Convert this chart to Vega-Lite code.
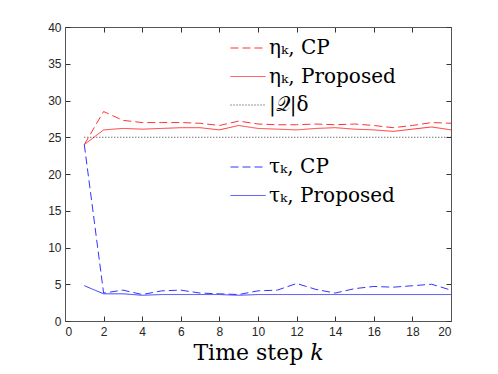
{
  "$schema": "https://vega.github.io/schema/vega-lite/v6.json",
  "width": 386,
  "height": 294,
  "autosize": {"type": "none"},
  "padding": {"left": 65, "top": 27, "right": 47, "bottom": 53},
  "background": "white",
  "config": {
    "view": {"stroke": null},
    "axis": {
      "grid": false,
      "domainColor": "#555555",
      "domainWidth": 1,
      "tickColor": "#333333",
      "tickSize": -5,
      "labelFont": "Liberation Sans",
      "labelFontSize": 12,
      "labelColor": "#262626"
    },
    "legend": {
      "symbolType": "stroke",
      "symbolSize": 1225,
      "symbolStrokeWidth": 1,
      "labelFont": "DejaVu Serif",
      "labelFontSize": 20,
      "labelColor": "black",
      "labelOffset": 3,
      "rowPadding": 0.5,
      "padding": 0,
      "labelLimit": 300
    }
  },
  "layer": [
    {
      "data": {"values": [
        {"k": 1, "v": 24.0, "series": "ηₖ, CP"},
        {"k": 2, "v": 28.5, "series": "ηₖ, CP"},
        {"k": 3, "v": 27.3, "series": "ηₖ, CP"},
        {"k": 4, "v": 27.0, "series": "ηₖ, CP"},
        {"k": 5, "v": 27.0, "series": "ηₖ, CP"},
        {"k": 6, "v": 27.0, "series": "ηₖ, CP"},
        {"k": 7, "v": 26.9, "series": "ηₖ, CP"},
        {"k": 8, "v": 26.6, "series": "ηₖ, CP"},
        {"k": 9, "v": 27.2, "series": "ηₖ, CP"},
        {"k": 10, "v": 26.8, "series": "ηₖ, CP"},
        {"k": 11, "v": 26.7, "series": "ηₖ, CP"},
        {"k": 12, "v": 26.7, "series": "ηₖ, CP"},
        {"k": 13, "v": 26.8, "series": "ηₖ, CP"},
        {"k": 14, "v": 26.7, "series": "ηₖ, CP"},
        {"k": 15, "v": 26.8, "series": "ηₖ, CP"},
        {"k": 16, "v": 26.6, "series": "ηₖ, CP"},
        {"k": 17, "v": 26.3, "series": "ηₖ, CP"},
        {"k": 18, "v": 26.6, "series": "ηₖ, CP"},
        {"k": 19, "v": 27.0, "series": "ηₖ, CP"},
        {"k": 20, "v": 26.9, "series": "ηₖ, CP"},
        {"k": 1, "v": 24.0, "series": "ηₖ, Proposed"},
        {"k": 2, "v": 26.0, "series": "ηₖ, Proposed"},
        {"k": 3, "v": 26.2, "series": "ηₖ, Proposed"},
        {"k": 4, "v": 26.1, "series": "ηₖ, Proposed"},
        {"k": 5, "v": 26.2, "series": "ηₖ, Proposed"},
        {"k": 6, "v": 26.3, "series": "ηₖ, Proposed"},
        {"k": 7, "v": 26.3, "series": "ηₖ, Proposed"},
        {"k": 8, "v": 26.0, "series": "ηₖ, Proposed"},
        {"k": 9, "v": 26.6, "series": "ηₖ, Proposed"},
        {"k": 10, "v": 26.2, "series": "ηₖ, Proposed"},
        {"k": 11, "v": 26.1, "series": "ηₖ, Proposed"},
        {"k": 12, "v": 26.0, "series": "ηₖ, Proposed"},
        {"k": 13, "v": 26.2, "series": "ηₖ, Proposed"},
        {"k": 14, "v": 26.3, "series": "ηₖ, Proposed"},
        {"k": 15, "v": 26.1, "series": "ηₖ, Proposed"},
        {"k": 16, "v": 26.0, "series": "ηₖ, Proposed"},
        {"k": 17, "v": 25.8, "series": "ηₖ, Proposed"},
        {"k": 18, "v": 26.1, "series": "ηₖ, Proposed"},
        {"k": 19, "v": 26.4, "series": "ηₖ, Proposed"},
        {"k": 20, "v": 26.0, "series": "ηₖ, Proposed"},
        {"k": 1, "v": 25, "series": "|𝒬|δ"},
        {"k": 20, "v": 25, "series": "|𝒬|δ"}
      ]},
      "mark": {"type": "line", "strokeWidth": 1},
      "encoding": {
        "x": {"field": "k", "type": "quantitative",
              "scale": {"domain": [0, 20], "nice": false},
              "axis": {"orient": "bottom", "values": [0,2,4,6,8,10,12,14,16,18,20], "labelPadding": 10,
                       "title": "Time step 𝑘", "titleFont": "DejaVu Serif", "titleFontSize": 22,
                       "titleFontWeight": "normal", "titleColor": "black", "titlePadding": 5}},
        "y": {"field": "v", "type": "quantitative",
              "scale": {"domain": [0, 40], "nice": false},
              "axis": {"orient": "left", "values": [0,5,10,15,20,25,30,35,40], "labelPadding": 9, "title": null}},
        "color": {"field": "series", "type": "nominal",
                  "scale": {"domain": ["ηₖ, CP", "ηₖ, Proposed", "|𝒬|δ"], "range": ["#ff3333", "#ff3333", "#333333"]},
                  "legend": {"orient": "none", "legendX": 165, "legendY": 3, "title": null}},
        "strokeDash": {"field": "series", "type": "nominal",
                  "scale": {"domain": ["ηₖ, CP", "ηₖ, Proposed", "|𝒬|δ"], "range": [[8, 4], [1, 0], [1, 2]]},
                  "legend": {"orient": "none", "legendX": 165, "legendY": 3, "title": null}}
      }
    },
    {
      "data": {"values": [
        {"k": 1, "v": 24.0, "series": "τₖ, CP"},
        {"k": 2, "v": 3.8, "series": "τₖ, CP"},
        {"k": 3, "v": 4.2, "series": "τₖ, CP"},
        {"k": 4, "v": 3.6, "series": "τₖ, CP"},
        {"k": 5, "v": 4.1, "series": "τₖ, CP"},
        {"k": 6, "v": 4.2, "series": "τₖ, CP"},
        {"k": 7, "v": 3.8, "series": "τₖ, CP"},
        {"k": 8, "v": 3.7, "series": "τₖ, CP"},
        {"k": 9, "v": 3.6, "series": "τₖ, CP"},
        {"k": 10, "v": 4.1, "series": "τₖ, CP"},
        {"k": 11, "v": 4.2, "series": "τₖ, CP"},
        {"k": 12, "v": 5.1, "series": "τₖ, CP"},
        {"k": 13, "v": 4.3, "series": "τₖ, CP"},
        {"k": 14, "v": 3.8, "series": "τₖ, CP"},
        {"k": 15, "v": 4.4, "series": "τₖ, CP"},
        {"k": 16, "v": 4.7, "series": "τₖ, CP"},
        {"k": 17, "v": 4.6, "series": "τₖ, CP"},
        {"k": 18, "v": 4.8, "series": "τₖ, CP"},
        {"k": 19, "v": 5.0, "series": "τₖ, CP"},
        {"k": 20, "v": 4.2, "series": "τₖ, CP"},
        {"k": 1, "v": 4.8, "series": "τₖ, Proposed"},
        {"k": 2, "v": 3.7, "series": "τₖ, Proposed"},
        {"k": 3, "v": 3.7, "series": "τₖ, Proposed"},
        {"k": 4, "v": 3.5, "series": "τₖ, Proposed"},
        {"k": 5, "v": 3.6, "series": "τₖ, Proposed"},
        {"k": 6, "v": 3.6, "series": "τₖ, Proposed"},
        {"k": 7, "v": 3.6, "series": "τₖ, Proposed"},
        {"k": 8, "v": 3.6, "series": "τₖ, Proposed"},
        {"k": 9, "v": 3.5, "series": "τₖ, Proposed"},
        {"k": 10, "v": 3.6, "series": "τₖ, Proposed"},
        {"k": 11, "v": 3.6, "series": "τₖ, Proposed"},
        {"k": 12, "v": 3.6, "series": "τₖ, Proposed"},
        {"k": 13, "v": 3.6, "series": "τₖ, Proposed"},
        {"k": 14, "v": 3.6, "series": "τₖ, Proposed"},
        {"k": 15, "v": 3.6, "series": "τₖ, Proposed"},
        {"k": 16, "v": 3.6, "series": "τₖ, Proposed"},
        {"k": 17, "v": 3.6, "series": "τₖ, Proposed"},
        {"k": 18, "v": 3.6, "series": "τₖ, Proposed"},
        {"k": 19, "v": 3.6, "series": "τₖ, Proposed"},
        {"k": 20, "v": 3.6, "series": "τₖ, Proposed"}
      ]},
      "mark": {"type": "line", "strokeWidth": 1},
      "encoding": {
        "x": {"field": "k", "type": "quantitative",
              "axis": {"orient": "top", "values": [0,2,4,6,8,10,12,14,16,18,20], "labels": false, "title": null}},
        "y": {"field": "v", "type": "quantitative",
              "axis": {"orient": "right", "values": [0,5,10,15,20,25,30,35,40], "labels": false, "title": null}},
        "color": {"field": "series", "type": "nominal",
                  "scale": {"domain": ["τₖ, CP", "τₖ, Proposed"], "range": ["#3333ff", "#3333ff"]},
                  "legend": {"orient": "none", "legendX": 165, "legendY": 122, "title": null}},
        "strokeDash": {"field": "series", "type": "nominal",
                  "scale": {"domain": ["τₖ, CP", "τₖ, Proposed"], "range": [[8, 4], [1, 0]]},
                  "legend": {"orient": "none", "legendX": 165, "legendY": 122, "title": null}}
      }
    }
  ],
  "resolve": {
    "scale": {"color": "independent", "strokeDash": "independent"},
    "axis": {"x": "independent", "y": "independent"}
  }
}
